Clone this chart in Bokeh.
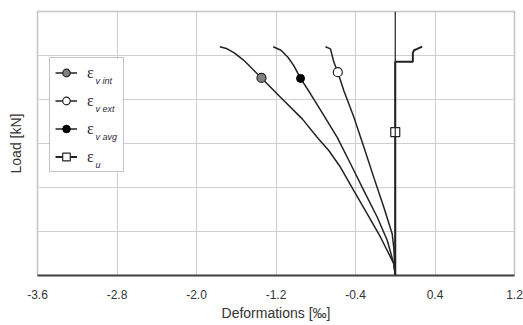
from bokeh.plotting import figure
from bokeh.models import (FixedTicker, PrintfTickFormatter, Range1d, Span, Legend,
                          LegendItem, Label, BoxAnnotation)
from bokeh.embed import file_html
from bokeh.resources import INLINE

# ---- data ----
x_ticks = [-3.6, -2.8, -2.0, -1.2, -0.4, 0.4, 1.2]
y_ticks = [0, 50, 100, 150, 200, 250, 300]

vint_x = [0.0, -0.015, -0.148, -0.282, -0.417, -0.551, -0.669, -0.786, -0.936, -1.155, -1.346, -1.524, -1.62, -1.70, -1.765]
vint_load = [0, 13.5, 43.5, 70, 96.5, 123, 142, 157, 178, 202.5, 224.5, 244.5, 253, 258, 260]

vavg_x = [0.0, -0.015, -0.081, -0.182, -0.316, -0.450, -0.584, -0.719, -0.853, -0.953, -1.021, -1.08, -1.15, -1.228]
vavg_load = [0, 13.5, 40, 66.5, 96.5, 127, 157, 182, 206.5, 224, 238.5, 248, 256, 260]

vext_x = [0.0, -0.015, -0.031, -0.115, -0.216, -0.316, -0.417, -0.517, -0.578, -0.618, -0.635, -0.652, -0.702]
vext_load = [0, 32, 47.5, 77.5, 111.5, 146, 180, 210, 231, 242.5, 250, 257.5, 260]

u_x = [0.0, 0.0, 0.177, 0.177, 0.19, 0.221, 0.271]
u_load = [0, 243, 243, 253, 256, 257.5, 260]

# marker positions on each curve
vint_mark = ([-1.346], [224.5])
vavg_mark = ([-0.953], [224])
vext_mark = ([-0.578], [231])
u_mark = ([0.0], [163])

sub_labels = ["v int", "v ext", "v avg", "u"]

FONT = "Liberation Sans"

p = figure(width=523, height=325, output_backend="svg", toolbar_location=None,
           x_range=Range1d(-3.6, 1.2), y_range=Range1d(0, 300),
           min_border_left=37, min_border_right=9, min_border_top=11, min_border_bottom=50)

p.outline_line_color = "#8a8a8a"
p.outline_line_dash = "1 1"
p.outline_line_width = 1.5

# axes
p.xaxis.ticker = FixedTicker(ticks=x_ticks)
p.xaxis.formatter = PrintfTickFormatter(format="%.1f")
p.xaxis.major_tick_line_color = None
p.xaxis.minor_tick_line_color = None
p.xaxis.axis_line_color = "#444444"
p.xaxis.axis_line_width = 2
p.xaxis.major_label_text_font = FONT
p.xaxis.major_label_text_font_size = "12px"
p.xaxis.major_label_text_color = "#333333"
p.xaxis.major_label_standoff = 8
p.xaxis.axis_label = "Deformations [‰]"
p.xaxis.axis_label_text_font = FONT
p.xaxis.axis_label_text_font_size = "14px"
p.xaxis.axis_label_text_font_style = "normal"
p.xaxis.axis_label_text_color = "#333333"
p.xaxis.axis_label_standoff = 3

p.yaxis.ticker = FixedTicker(ticks=[])
p.yaxis.major_tick_line_color = None
p.yaxis.minor_tick_line_color = None
p.yaxis.axis_line_color = None
p.yaxis.major_label_standoff = 0
p.yaxis.axis_label = "Load [kN]"
p.yaxis.axis_label_text_font = FONT
p.yaxis.axis_label_text_font_size = "14px"
p.yaxis.axis_label_text_font_style = "normal"
p.yaxis.axis_label_text_color = "#333333"
p.yaxis.axis_label_standoff = 14

p.xgrid.ticker = FixedTicker(ticks=x_ticks)
p.ygrid.ticker = FixedTicker(ticks=y_ticks)
p.grid.grid_line_color = "#cfcfcf"
p.grid.grid_line_width = 1

# white backing of the legend box (legend itself is transparent so subscripts show)
p.add_layout(BoxAnnotation(left=12, right=86, bottom=103, top=217,
                           left_units="screen", right_units="screen",
                           bottom_units="screen", top_units="screen",
                           fill_color="white", fill_alpha=1.0, line_color=None,
                           level="glyph"))

# zero line
p.add_layout(Span(location=0, dimension="height", line_color="#222222", line_width=1.2))

LC = "#222222"
l_vint = p.line(vint_x, vint_load, line_color=LC, line_width=1.5)
l_vext = p.line(vext_x, vext_load, line_color=LC, line_width=1.5)
l_vavg = p.line(vavg_x, vavg_load, line_color=LC, line_width=1.5)
l_u = p.line(u_x, u_load, line_color=LC, line_width=2)

m_vint = p.scatter(*vint_mark, marker="circle", size=9, fill_color="#808080", line_color="#222222", line_width=1.2)
m_vext = p.scatter(*vext_mark, marker="circle", size=9, fill_color="white", line_color="#222222", line_width=1.2)
m_vavg = p.scatter(*vavg_mark, marker="circle", size=8, fill_color="black", line_color="black", line_width=1)
m_u = p.scatter(*u_mark, marker="square", size=9, fill_color="white", line_color="#222222", line_width=1.2)

items = [
    LegendItem(label="ε", renderers=[l_vint, m_vint]),
    LegendItem(label="ε", renderers=[l_vext, m_vext]),
    LegendItem(label="ε", renderers=[l_vavg, m_vavg]),
    LegendItem(label="ε", renderers=[l_u, m_u]),
]
legend = Legend(items=items, location=(12, 103),
                glyph_width=22, glyph_height=19, label_height=19, label_width=31,
                spacing=9, padding=5, label_standoff=10, margin=0,
                border_line_color="#8a8a8a", border_line_width=1.2,
                background_fill_alpha=0.0,
                label_text_font="Liberation Serif", label_text_font_size="16px",
                label_text_color="#1e1e2a")
p.add_layout(legend, "center")

# subscripts of the legend labels
sub_y = [195, 167, 139, 111]
for txt, yy in zip(sub_labels, sub_y):
    p.add_layout(Label(x=58, y=yy, x_units="screen", y_units="screen", text=txt,
                       text_font=FONT, text_font_size="9px", text_font_style="italic",
                       text_color="#2a2a3a", text_baseline="middle"))

open("out.html", "w").write(file_html(p, INLINE))
